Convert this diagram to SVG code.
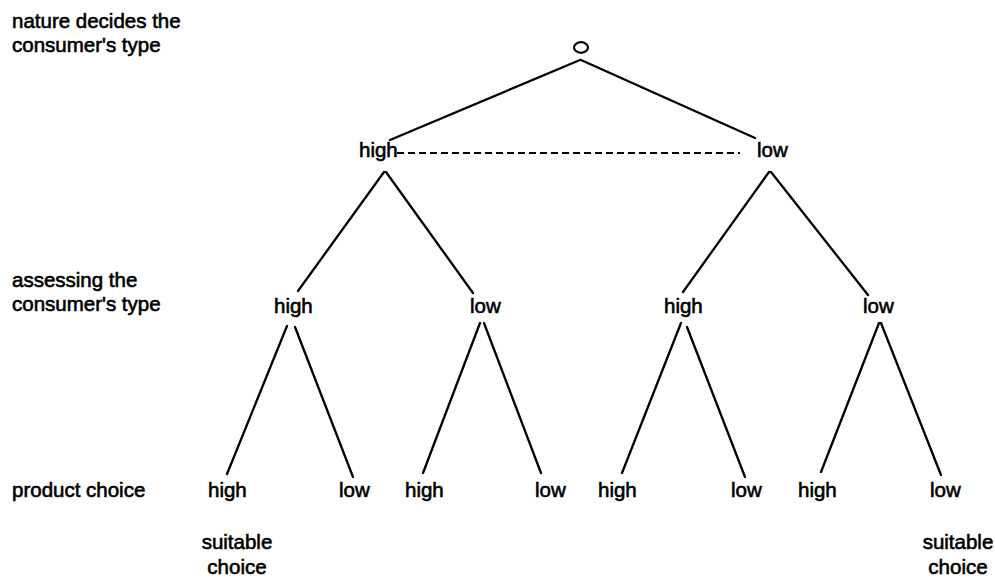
<svg xmlns="http://www.w3.org/2000/svg" width="995" height="578" viewBox="0 0 995 578">
<style>
text { font-family: "Liberation Sans", Arial, sans-serif; font-size: 20.5px; fill: #000; stroke: #000; stroke-width: 0.6px; }
.edge { stroke: #000; stroke-width: 2.3; fill: none; stroke-linecap: round; }
.info { stroke: #000; stroke-width: 1.8; stroke-dasharray: 7 4; fill: none; }
.mid { text-anchor: middle; }
</style>
<rect width="995" height="578" fill="#fff"/>
<g id="row-labels">
  <text x="12" y="28">nature decides the</text>
  <text x="12" y="52">consumer's type</text>
  <text x="12" y="287">assessing the</text>
  <text x="12" y="311">consumer's type</text>
  <text x="12" y="497">product choice</text>
</g>
<g id="connectors">
  <line class="edge" x1="580" y1="60" x2="390" y2="140"/>
  <line class="edge" x1="581" y1="60" x2="755" y2="138"/>
  <line class="info" x1="397" y1="153" x2="740" y2="153"/>
  <line class="edge" x1="384" y1="172" x2="298" y2="291"/>
  <line class="edge" x1="386" y1="172" x2="473" y2="293"/>
  <line class="edge" x1="769" y1="172" x2="683" y2="292"/>
  <line class="edge" x1="771" y1="172" x2="868" y2="295"/>
  <line class="edge" x1="287" y1="326" x2="227" y2="474"/>
  <line class="edge" x1="295" y1="327" x2="353" y2="477"/>
  <line class="edge" x1="480" y1="323" x2="423" y2="473"/>
  <line class="edge" x1="484" y1="323" x2="541" y2="473"/>
  <line class="edge" x1="681" y1="323" x2="622" y2="473"/>
  <line class="edge" x1="687" y1="327" x2="745" y2="477"/>
  <line class="edge" x1="879" y1="323" x2="821" y2="472"/>
  <line class="edge" x1="881" y1="323" x2="941" y2="475"/>
</g>
<g id="root">
  <ellipse cx="581" cy="47.5" rx="7" ry="5.3" fill="none" stroke="#000" stroke-width="2.2"/>
</g>
<g id="n-high"><text x="359" y="157">high</text></g>
<g id="n-low"><text x="757" y="157">low</text></g>
<g id="n-high-high"><text x="274" y="313">high</text></g>
<g id="n-high-low"><text x="470" y="313">low</text></g>
<g id="n-low-high"><text x="664" y="313">high</text></g>
<g id="n-low-low"><text x="863" y="313">low</text></g>
<g id="n-hh-high"><text x="208" y="497">high</text></g>
<g id="n-hh-low"><text x="339" y="497">low</text></g>
<g id="n-hl-high"><text x="405" y="497">high</text></g>
<g id="n-hl-low"><text x="535" y="497">low</text></g>
<g id="n-lh-high"><text x="598" y="497">high</text></g>
<g id="n-lh-low"><text x="731" y="497">low</text></g>
<g id="n-ll-high"><text x="798" y="497">high</text></g>
<g id="n-ll-low"><text x="930" y="497">low</text></g>
<g id="note-left">
  <text class="mid" x="237" y="549">suitable</text>
  <text class="mid" x="237" y="574">choice</text>
</g>
<g id="note-right">
  <text class="mid" x="958" y="549">suitable</text>
  <text class="mid" x="958" y="574">choice</text>
</g>
</svg>
